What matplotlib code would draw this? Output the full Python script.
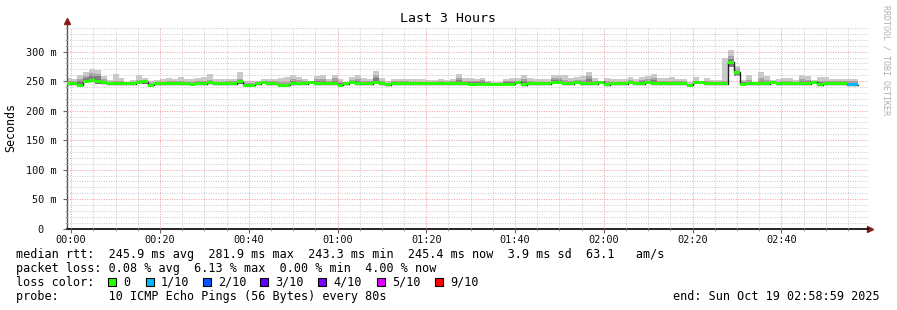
import numpy as np
import matplotlib
matplotlib.use('Agg')
import matplotlib.pyplot as plt
from matplotlib.patches import Rectangle

# one probe round every 80 s, first round starts just before 00:00
step_min = 80 / 60.0

# median rtt per round (ms)
median = [
    246, 246, 243, 250, 251, 249, 247, 246, 246, 246,
    246, 246, 248, 249, 243, 246, 246, 246, 246, 246,
    246, 245, 246, 246, 247, 246, 246, 246, 246, 249,
    243.5, 243.5, 246, 248, 245.5, 245.5, 243.5, 243.5, 246, 246,
    246, 248, 246, 246, 246, 246, 243.5, 246, 248, 246,
    246, 246, 248, 246, 244, 245.5, 245.5, 245.5, 245.5, 245.5,
    245.5, 245.5, 245.5, 245.5, 245.5, 245.5, 246, 246, 245, 245,
    245, 245, 245, 245, 245, 245, 248, 244, 246, 246,
    246, 246, 248, 248, 246, 246, 248, 246, 246, 246,
    248, 244, 246, 246, 246, 248, 246, 246, 248, 246,
    246, 246, 246, 246, 246, 243.5, 248, 248, 246, 246,
    246, 246, 282, 265, 245, 245.5, 245.5, 245.5, 245.5, 248,
    245.5, 246, 245.5, 245.5, 245.5, 245.5, 248, 244, 246, 246,
    246, 246, 244, 244,
]

# slowest ping per round (top of smoke)
ping_max = [
    255, 253, 260, 265, 270, 269, 259, 252, 262, 256,
    248, 252, 261, 256, 251, 252, 253, 256, 253, 257,
    253, 254, 256, 257, 262, 253, 253, 254, 254, 265,
    250, 250, 251, 254, 253, 253, 256, 257, 261, 257,
    253, 250, 259, 260, 253, 261, 253, 248, 257, 260,
    255, 253, 267, 256, 250, 253, 253, 253, 253, 253,
    253, 252, 252, 253, 252, 253, 263, 256, 256, 253,
    256, 250, 248, 248, 253, 255, 255, 260, 256, 253,
    253, 253, 260, 260, 260, 255, 257, 259, 266, 256,
    249, 255, 253, 253, 253, 257, 253, 257, 259, 263,
    255, 255, 257, 253, 253, 248, 257, 249, 256, 252,
    252, 290, 303, 276, 252, 260, 249, 266, 259, 252,
    253, 255, 255, 252, 260, 259, 252, 257, 257, 253,
    253, 253, 253, 253,
]

# 9th ping per round
ping_mid = [
    251, 251, 253, 258, 264, 263, 254, 249, 250, 250,
    247, 249, 252, 252, 247, 249, 249, 250, 250, 251,
    249, 249, 250, 251, 252, 249, 249, 250, 250, 254,
    247, 247, 249, 251, 250, 250, 249, 249, 254, 252,
    250, 249, 254, 254, 250, 255, 249, 247, 252, 254,
    251, 250, 260, 251, 247, 250, 250, 250, 249, 249,
    249, 249, 249, 250, 249, 250, 256, 251, 251, 250,
    252, 248, 247, 247, 250, 251, 251, 253, 251, 249,
    249, 249, 255, 255, 252, 250, 252, 252, 258, 251,
    248, 250, 249, 249, 249, 252, 249, 252, 253, 256,
    251, 250, 251, 250, 250, 246, 251, 249, 250, 249,
    249, 250, 292, 272, 249, 252, 248, 255, 252, 249,
    249, 250, 250, 249, 253, 252, 250, 251, 251, 250,
    250, 250, 250, 250,
]

# 8th ping per round
ping_dark = [
    249, 249, 250, 255, 260, 258, 251, 248, 248, 248,
    246, 248, 250, 251, 245, 248, 248, 248, 248, 249,
    248, 247, 248, 248, 249, 248, 248, 248, 248, 252,
    246, 246, 248, 250, 248, 248, 246, 246, 250, 249,
    248, 248, 250, 250, 248, 251, 247, 247, 250, 250,
    249, 248, 255, 249, 246, 248, 248, 248, 248, 248,
    248, 248, 248, 248, 248, 248, 252, 249, 248, 248,
    249, 247, 246, 246, 248, 249, 250, 250, 249, 248,
    248, 248, 252, 252, 249, 248, 250, 249, 253, 249,
    248, 247, 248, 248, 248, 250, 248, 250, 250, 252,
    249, 248, 249, 248, 248, 245, 250, 249, 249, 248,
    248, 248, 288, 268, 248, 249, 247, 250, 249, 249,
    248, 248, 248, 248, 250, 250, 249, 248, 248, 248,
    248, 248, 247, 247,
]

# fastest ping per round
ping_min = [
    244, 244, 241, 247, 248, 246, 245, 244, 244, 244,
    244, 244, 245, 246, 241, 244, 244, 244, 244, 244,
    244, 243, 244, 244, 245, 244, 244, 244, 244, 246,
    242, 242, 244, 245, 243.5, 243.5, 242, 242, 244, 244,
    244, 246, 244, 244, 244, 244, 242, 244, 246, 244,
    244, 244, 246, 244, 243, 243.5, 243.5, 243.5, 243.5, 243.5,
    243.5, 243.5, 243.5, 243.5, 243.5, 243.5, 244, 244, 243, 243,
    243, 243, 243, 243, 243, 243, 245, 242.5, 244, 244,
    244, 244, 245, 245, 244, 244, 245, 244, 244, 244,
    245, 242.5, 244, 244, 244, 245, 244, 244, 245, 244,
    244, 244, 244, 244, 244, 242, 245, 245, 244, 244,
    244, 244, 274, 259, 243, 243.5, 243.5, 243.5, 243.5, 245,
    243.5, 244, 243.5, 243.5, 243.5, 243.5, 245, 242.5, 244, 244,
    244, 244, 242.5, 242.5,
]

# lost pings out of 10 per round
loss = [0] * 132 + [1, 1]

loss_keys = [0, 1, 2, 3, 4, 5, 9]
loss_labels = ['0', '1/10', '2/10', '3/10', '4/10', '5/10', '9/10']
loss_colors = ['#26ff00', '#00b8ff', '#0059ff', '#5e00ff', '#7e00ff', '#dd00ff', '#ff0000']

x_tick_pos = [0, 20, 40, 60, 80, 100, 120, 140, 160]
x_tick_labels = ['00:00', '00:20', '00:40', '01:00', '01:20', '01:40', '02:00', '02:20', '02:40']
y_tick_pos = [0, 50, 100, 150, 200, 250, 300]
y_tick_labels = ['0  ', '50 m', '100 m', '150 m', '200 m', '250 m', '300 m']

rtt_line = 'median rtt:  245.9 ms avg  281.9 ms max  243.3 ms min  245.4 ms now  3.9 ms sd  63.1   am/s'
loss_line = 'packet loss: 0.08 % avg  6.13 % max  0.00 % min  4.00 % now'
probe_line = 'probe:       10 ICMP Echo Pings (56 Bytes) every 80s'
end_line = 'end: Sun Oct 19 02:58:59 2025'

W, H = 897, 310
mono = 'DejaVu Sans Mono'


def px(x, y):
    return x / W, 1 - y / H


fig = plt.figure(figsize=(W / 100, H / 100), dpi=100)
fig.patch.set_facecolor('white')
ax = fig.add_axes([66.5 / W, (H - 228.7) / H, (868 - 66.5) / W, (228.7 - 27.5) / H])

med = np.array(median)
t0 = (np.arange(len(med)) - 1) * step_min

# smoke, lightest outer band first
for top, col in [(ping_max, '#cacaca'), (ping_mid, '#a4a4a4'), (ping_dark, '#7e7e7e')]:
    top = np.array(top)
    ax.bar(t0, top - np.array(ping_min), bottom=ping_min, width=step_min, align='edge',
           color=col, linewidth=0, antialiased=False, zorder=2)

# median line, then loss coloured band over it
edges = np.append(t0, t0[-1] + step_min)
ax.step(edges, np.append(med, med[-1]), where='post', color='#202020', lw=1.0, zorder=3)
lc = [loss_colors[loss_keys.index(v)] for v in loss]
ax.bar(t0, 5.0, bottom=med - 2.5, width=step_min, align='edge', color=lc,
       linewidth=0, antialiased=False, zorder=4)

ax.set_xlim(-1.05, 179.5)
ax.set_ylim(0, 341)

ax.set_xticks(x_tick_pos)
ax.set_xticklabels(x_tick_labels)
ax.set_xticks(np.arange(0, 180, 5), minor=True)
ax.set_yticks(y_tick_pos)
ax.set_yticklabels(y_tick_labels)
ax.set_yticks(np.arange(0, 341, 10), minor=True)

ax.grid(which='minor', color='#c8c8c8', linestyle=(0, (1, 1.5)), linewidth=0.7, zorder=5)
ax.grid(which='major', color='#f08080', linestyle=(0, (1, 1.5)), linewidth=0.7, alpha=0.8, zorder=5)
ax.set_axisbelow(False)

ax.tick_params(which='major', length=3, width=0.8, color='#666666', labelsize=7.4,
               labelcolor='#111111')
ax.tick_params(axis='x', which='major', pad=1.5)
ax.tick_params(axis='y', which='major', pad=4)
ax.tick_params(which='minor', length=1.5, width=0.6, color='#999999')
for lab in ax.get_xticklabels() + ax.get_yticklabels():
    lab.set_family(mono)

for s in ['top', 'right']:
    ax.spines[s].set_visible(False)
ax.spines['left'].set_color('#555555')
ax.spines['bottom'].set_color('#000000')
ax.spines['left'].set_linewidth(1.0)
ax.spines['bottom'].set_linewidth(1.2)

# arrows at the axis ends
ax.plot([0, 0], [1.0, 1.03], transform=ax.transAxes, color='#555555', lw=1.0, clip_on=False)
ax.plot(0, 1.03, marker='^', markersize=4, color='#8b1a1a', transform=ax.transAxes, clip_on=False)
ax.plot(1.003, 0, marker='>', markersize=4, color='#8b1a1a', transform=ax.transAxes, clip_on=False)

fig.text(*px(448, 19), 'Last 3 Hours', ha='center', va='center', fontsize=9.5, family=mono)
fig.text(*px(11, 127), 'Seconds', ha='center', va='center', rotation=90, fontsize=8.4, family=mono)
fig.text(*px(886, 60), 'RRDTOOL / TOBI OETIKER', ha='center', va='center', rotation=-90,
         fontsize=6.0, family=mono, color='#b0b0b0')

fig.text(*px(16, 254.3), rtt_line, ha='left', va='center', fontsize=8.45, family=mono)
fig.text(*px(16, 268.3), loss_line, ha='left', va='center', fontsize=8.45, family=mono)
fig.text(*px(16, 282.3), 'loss color:', ha='left', va='center', fontsize=8.45, family=mono)
fig.text(*px(16, 296.3), probe_line, ha='left', va='center', fontsize=8.45, family=mono)
fig.text(*px(880, 296.3), end_line, ha='right', va='center', fontsize=8.45, family=mono)

box_x = [108, 146, 203, 260, 318, 377, 435]
for bx, lab, col in zip(box_x, loss_labels, loss_colors):
    fig.add_artist(Rectangle(px(bx, 286.3), 8 / W, 8 / H, transform=fig.transFigure,
                             facecolor=col, edgecolor='black', linewidth=0.8))
    fig.text(*px(bx + 15, 282.3), lab, ha='left', va='center', fontsize=8.45, family=mono)

fig.savefig('out.png', dpi=100)
